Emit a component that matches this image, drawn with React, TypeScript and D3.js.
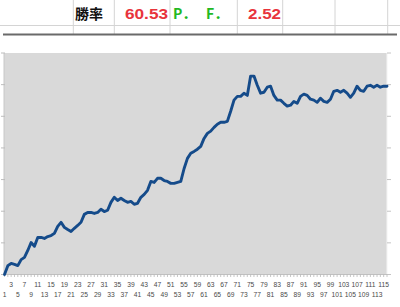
import React from "react";
import * as d3 from "d3";

// Cumulative result per trade (1..116)
const trades: number[] = d3.range(1, 117);
const equity: number[] = [
  0, 28, 35, 32, 28, 47, 54, 76, 101, 89,
  117, 117, 114, 120, 123, 130, 152, 165, 149, 142,
  136, 146, 155, 165, 190, 196, 196, 193, 196, 206,
  199, 203, 228, 244, 234, 241, 234, 228, 231, 222,
  225, 244, 253, 266, 294, 291, 304, 304, 297, 294,
  288, 288, 291, 294, 335, 367, 383, 389, 396, 405,
  430, 446, 453, 465, 475, 481, 481, 484, 516, 551,
  563, 563, 573, 566, 627, 627, 598, 573, 576, 592,
  595, 566, 551, 551, 541, 532, 535, 547, 541, 563,
  570, 566, 554, 551, 544, 557, 547, 544, 554, 579,
  582, 576, 582, 573, 560, 573, 595, 582, 579, 595,
  598, 592, 598, 592, 595, 595,
];
const yTicks: number[] = [0, 100, 200, 300, 400, 500, 600, 700];

// Summary row
const winRateLabel = "勝率";
const winRate = "60.53";
const pfLabels = ["P．", "F．"];
const profitFactor = "2.52";
const sheetColumns: number[] = [73.3, 114.3, 170, 237.3, 282.7, 335, 387.7];

const W = 400;
const H = 307;
const plot = { left: 4, right: 387, top: 53, bottom: 274.5 };

export default function App() {
  const x = d3
    .scalePoint<number>()
    .domain(trades)
    .range([plot.left + 0.5, plot.right]);
  const y = d3
    .scaleLinear()
    .domain([0, 700])
    .range([plot.bottom, plot.top]);

  const line = d3
    .line<number>()
    .x((_, i) => x(trades[i]) as number)
    .y((d) => y(d));

  const labelled = trades.filter((t) => t % 2 === 1);

  return (
    <svg
      width={W}
      height={H}
      viewBox={`0 0 ${W} ${H}`}
      style={{ position: "fixed", left: 0, top: 0, background: "#fff" }}
    >
      {/* spreadsheet row with summary figures */}
      <line x1={0} x2={W} y1={25.5} y2={25.5} stroke="#d4d4d4" strokeWidth={1} />
      {sheetColumns.map((cx, i) => (
        <line key={i} x1={cx} x2={cx} y1={0} y2={34} stroke="#d4d4d4" strokeWidth={1} />
      ))}
      <line x1={3} x2={397} y1={34.5} y2={34.5} stroke="#6a6a6a" strokeWidth={2} />
      <text
        x={75}
        y={18.5}
        fontFamily="Noto Sans CJK JP"
        fontSize={14}
        fontWeight="bold"
        fill="#111"
      >
        {winRateLabel}
      </text>
      <text
        x={125}
        y={18.5}
        fontFamily="Liberation Sans, Arial, sans-serif"
        fontSize={15}
        fontWeight="bold"
        fill="#e8343c"
        textLength={43}
        lengthAdjust="spacingAndGlyphs"
      >
        {winRate}
      </text>
      <text
        x={173}
        y={18.5}
        fontFamily="Noto Sans CJK JP"
        fontSize={14}
        fontWeight="bold"
        fill="#22b822"
      >
        {pfLabels[0]}
      </text>
      <text
        x={206}
        y={18.5}
        fontFamily="Noto Sans CJK JP"
        fontSize={14}
        fontWeight="bold"
        fill="#22b822"
      >
        {pfLabels[1]}
      </text>
      <text
        x={248}
        y={18.5}
        fontFamily="Liberation Sans, Arial, sans-serif"
        fontSize={15}
        fontWeight="bold"
        fill="#e8343c"
        textLength={33}
        lengthAdjust="spacingAndGlyphs"
      >
        {profitFactor}
      </text>

      {/* plot area */}
      <rect
        x={plot.left}
        y={plot.top}
        width={plot.right - plot.left}
        height={plot.bottom - plot.top}
        fill="#d9d9d9"
      />
      <line x1={plot.left} x2={plot.left} y1={plot.top} y2={plot.bottom} stroke="#c8c8c8" />
      <line x1={plot.right} x2={plot.right} y1={plot.top} y2={plot.bottom} stroke="#f4f4f4" />

      {/* value-axis ticks on both sides */}
      {yTicks.map((t) => (
        <g key={t}>
          <line x1={1} x2={5} y1={y(t)} y2={y(t)} stroke="#bdbdbd" />
          <line x1={plot.right} x2={plot.right + 4} y1={y(t)} y2={y(t)} stroke="#c4c4c4" />
        </g>
      ))}

      {/* category axis */}
      <line x1={plot.left} x2={plot.right} y1={plot.bottom} y2={plot.bottom} stroke="#c0c0c0" />
      {trades.map((t) => (
        <line
          key={t}
          x1={x(t)}
          x2={x(t)}
          y1={plot.bottom}
          y2={plot.bottom + 2.5}
          stroke="#b8b8b8"
          strokeWidth={0.8}
        />
      ))}
      {labelled.map((t) => {
        const lower = ((t - 1) / 2) % 2 === 0;
        return (
          <text
            key={t}
            transform={`translate(${x(t)},${lower ? 297.3 : 287.3}) scale(0.84,1)`}
            textAnchor="middle"
            fontFamily="Liberation Sans, Arial, sans-serif"
            fontSize={8}
            fill="#4a4a4a"
          >
            {t}
          </text>
        );
      })}

      {/* equity line */}
      <path
        d={line(equity) ?? ""}
        fill="none"
        stroke="#154b8a"
        strokeWidth={2.9}
        strokeLinejoin="round"
        strokeLinecap="round"
      />
    </svg>
  );
}
